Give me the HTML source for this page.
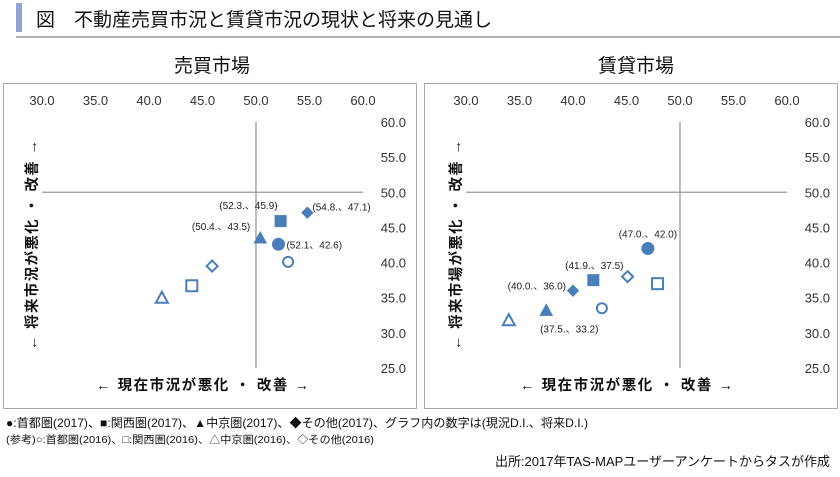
<!DOCTYPE html>
<html><head><meta charset="utf-8"><style>
body{margin:0;background:#fff;width:840px;height:472px;overflow:hidden;font-family:"Liberation Sans","Noto Sans CJK JP",sans-serif;}
svg text{font-family:"Liberation Sans","Noto Sans CJK JP",sans-serif;}
</style></head><body>
<svg width="840" height="472" xmlns="http://www.w3.org/2000/svg" id="root">
<rect x="16" y="3" width="6" height="29" fill="#8fa4cf"/>
<text x="36" y="26" font-size="19" fill="#111">図　不動産売買市況と賃貸市況の現状と将来の見通し</text>
<line x1="16" y1="37" x2="840" y2="37" stroke="#666" stroke-width="1"/>
<text x="212" y="72" font-size="19" text-anchor="middle" fill="#111">売買市場</text>
<text x="636" y="72" font-size="19" text-anchor="middle" fill="#111">賃貸市場</text>
<rect x="3.5" y="83.5" width="413" height="325" fill="none" stroke="#aaa"/>
<rect x="424.5" y="83.5" width="413" height="325" fill="none" stroke="#aaa"/>
<g id="left"></g><g id="right"></g>
<text x="6" y="427" font-size="12" textLength="582" lengthAdjust="spacingAndGlyphs" fill="#111">●:首都圏(2017)、■:関西圏(2017)、▲中京圏(2017)、◆その他(2017)、グラフ内の数字は(現況D.I.、将来D.I.)</text>
<text x="6" y="443" font-size="10.5" textLength="368" lengthAdjust="spacingAndGlyphs" fill="#111">(参考)○:首都圏(2016)、□:関西圏(2016)、△中京圏(2016)、◇その他(2016)</text>
<text x="830" y="466" font-size="13" text-anchor="end" fill="#111">出所:2017年TAS-MAPユーザーアンケートからタスが作成</text>
</svg>
<script>
const xTicks=[30,35,40,45,50,55,60];
const yTicks=[60,55,50,45,40,35,30,25];
const saleX2017=[52.1,52.3,50.4,54.8];
const saleY2017=[42.6,45.9,43.5,47.1];
const saleX2016=[53.0,44.0,41.2,45.9];
const saleY2016=[40.1,36.7,35.0,39.5];
const rentX2017=[47.0,41.9,37.5,40.0];
const rentY2017=[42.0,37.5,33.2,36.0];
const rentX2016=[42.7,47.9,34.0,45.1];
const rentY2016=[33.5,37.0,31.8,38.0];
const shapes=['circle','square','triangle','diamond'];
const saleLabels=['(52.1、42.6)','(52.3.、45.9)','(50.4.、43.5)','(54.8.、47.1)'];
const rentLabels=['(47.0.、42.0)','(41.9.、37.5)','(37.5.、33.2)','(40.0.、36.0)'];
const NS='http://www.w3.org/2000/svg';
const C='#4a7ebb';
function mk(tag,attrs,parent){const e=document.createElementNS(NS,tag);for(const k in attrs)e.setAttribute(k,attrs[k]);parent.appendChild(e);return e;}
function drawChart(g,x0,yTitle,X17,Y17,X16,Y16,labels,labelPos,prefix){
  const sx=v=>x0+(v-30)*(321/30);
  const sy=v=>122+(60-v)*(246/35);
  xTicks.forEach(t=>{const e=mk('text',{x:sx(t),y:105,'font-size':13,'text-anchor':'middle',fill:'#333'},g);e.textContent=t.toFixed(1);
    
    });
  yTicks.forEach(t=>{const e=mk('text',{x:x0+364,y:sy(t)+5,'font-size':13,'text-anchor':'end',fill:'#333'},g);e.textContent=t.toFixed(1);
    
    });
  let l=mk('line',{x1:sx(30),x2:sx(60),y1:sy(50),y2:sy(50),stroke:'#999','stroke-width':1.3},g);
  
  
  l=mk('line',{x1:sx(50),x2:sx(50),y1:sy(60),y2:sy(25),stroke:'#999','stroke-width':1.3},g);
  
  
  let t=mk('text',{x:sx(45),y:390,'font-size':14.5,'font-weight':'bold','text-anchor':'middle',fill:'#111',textLength:213,lengthAdjust:'spacing'},g);
  t.textContent='← 現在市況が悪化 ・ 改善 →';
  
  
  t=mk('text',{x:0,y:0,'font-size':14.5,'font-weight':'bold','text-anchor':'middle',fill:'#111',textLength:210,lengthAdjust:'spacing',transform:`translate(${x0-5},${sy(42.5)}) rotate(-90)`},g);
  t.textContent=yTitle;
  
  
  function marker(sh,cx,cy,filled,name){
    const st=filled?{fill:C,stroke:C,'stroke-width':1}:{fill:'#fff',stroke:C,'stroke-width':2};
    let e;
    if(sh==='circle')e=mk('circle',Object.assign({cx:cx,cy:cy,r:filled?6:5},st),g);
    else if(sh==='square')e=mk('rect',Object.assign({x:cx-5.5,y:cy-5.5,width:11,height:11},st),g);
    else if(sh==='triangle')e=mk('polygon',Object.assign({points:`${cx},${cy-6} ${cx+6},${cy+5} ${cx-6},${cy+5}`},st),g);
    else e=mk('polygon',Object.assign({points:`${cx},${cy-5.5} ${cx+5.5},${cy} ${cx},${cy+5.5} ${cx-5.5},${cy}`},st),g);
    
    
  }
  shapes.forEach((sh,i)=>{
    marker(sh,sx(X16[i]),sy(Y16[i]),false,prefix+'-'+sh+'-2016');
    marker(sh,sx(X17[i]),sy(Y17[i]),true,prefix+'-'+sh+'-2017');
    const p=labelPos[i];
    const e=mk('text',{x:sx(X17[i])+p[0],y:sy(Y17[i])+p[1],'font-size':10,'text-anchor':p[2],fill:'#222'},g);
    e.textContent=labels[i];
    
    
  });
}
drawChart(document.getElementById('left'),42,'← 将来市況が悪化 ・ 改善 →',saleX2017,saleY2017,saleX2016,saleY2016,saleLabels,
  [[8,4,'start'],[-3,-12,'end'],[-10,-8,'end'],[5,-2,'start']],'sale');
drawChart(document.getElementById('right'),466,'← 将来市場が悪化 ・ 改善 →',rentX2017,rentY2017,rentX2016,rentY2016,rentLabels,
  [[0,-11,'middle'],[1,-11,'middle'],[23,22,'middle'],[-7,-1,'end']],'rent');
</script>
</body></html>
